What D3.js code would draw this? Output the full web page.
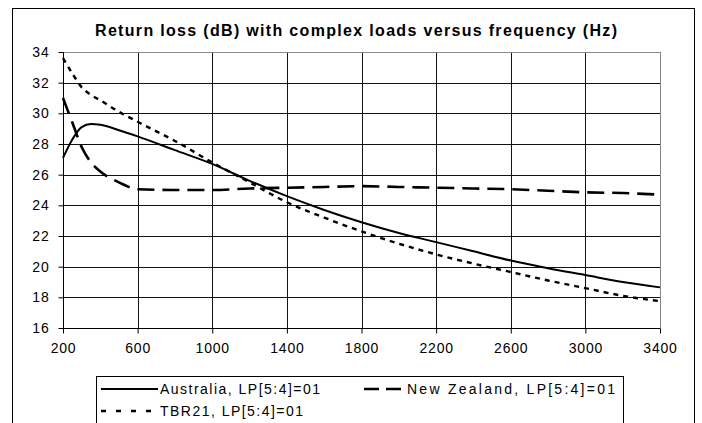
<!DOCTYPE html>
<html>
<head>
<meta charset="utf-8">
<script src="https://cdn.jsdelivr.net/npm/d3@7"></script>
<style>
  body { margin: 0; background: #fff; }
  svg { font-family: "Liberation Sans", Arial, sans-serif; }
  .axis text { font-size: 14px; fill: #000; letter-spacing: 0.8px; }
  .axis path, .axis line { stroke: #000; }
</style>
</head>
<body>
<div id="vis"></div>
<script>
var freq = [200, 250, 300, 350, 400, 500, 600, 800, 1000, 1200, 1400, 1600, 1800, 2000, 2200, 2400, 2600, 2800, 3000, 3200, 3400];
var australia = [27.1, 28.3, 29.1, 29.3, 29.25, 28.9, 28.5, 27.6, 26.7, 25.6, 24.6, 23.7, 22.9, 22.2, 21.6, 21.0, 20.4, 19.9, 19.45, 19.0, 18.65];
var newZealand = [31.0, 29.4, 27.8, 26.8, 26.2, 25.5, 25.05, 25.0, 25.0, 25.1, 25.15, 25.2, 25.25, 25.2, 25.15, 25.1, 25.05, 24.95, 24.85, 24.8, 24.7];
var tbr21 = [33.6, 32.6, 31.7, 31.2, 30.85, 30.1, 29.45, 28.2, 26.8, 25.5, 24.2, 23.2, 22.3, 21.5, 20.8, 20.2, 19.65, 19.1, 18.6, 18.1, 17.75];

var xTicks = [200, 600, 1000, 1400, 1800, 2200, 2600, 3000, 3400];
var yTicks = [16, 18, 20, 22, 24, 26, 28, 30, 32, 34];

var seriesNames = ['Australia, LP[5:4]=01', 'New Zealand, LP[5:4]=01', 'TBR21, LP[5:4]=01'];
var title = 'Return loss (dB) with complex loads versus frequency (Hz)';

var W = 702, H = 423;
var plot = {left: 63, top: 52, right: 660, bottom: 328};

var svg = d3.select('#vis').append('svg')
    .attr('width', W)
    .attr('height', H);

// outer chart frame
svg.append('rect')
   .attr('x', 12.5).attr('y', 8.5)
   .attr('width', 682).attr('height', 430)
   .attr('fill', '#fff')
   .attr('stroke', '#000')
   .attr('stroke-width', 1);

svg.append('text')
   .attr('x', 356).attr('y', 36)
   .attr('text-anchor', 'middle')
   .attr('font-size', 16)
   .attr('font-weight', 'bold')
   .attr('textLength', 522)
   .attr('lengthAdjust', 'spacing')
   .text(title);

var x = d3.scaleLinear().domain([200, 3400]).range([plot.left, plot.right]);
var y = d3.scaleLinear().domain([16, 34]).range([plot.bottom, plot.top]);

// gridlines
svg.append('g').selectAll('line.h')
   .data(yTicks.filter(function(d) { return d > 16 && d < 34; }))
   .enter().append('line')
   .attr('x1', plot.left).attr('x2', plot.right)
   .attr('y1', function(d) { return Math.round(y(d)) + 0.5; })
   .attr('y2', function(d) { return Math.round(y(d)) + 0.5; })
   .attr('stroke', '#111').attr('stroke-width', 1);

svg.append('g').selectAll('line.v')
   .data(xTicks.filter(function(d) { return d > 200 && d < 3400; }))
   .enter().append('line')
   .attr('y1', plot.top).attr('y2', plot.bottom)
   .attr('x1', function(d) { return Math.round(x(d)) + 0.5; })
   .attr('x2', function(d) { return Math.round(x(d)) + 0.5; })
   .attr('stroke', '#111').attr('stroke-width', 1);

// plot area border (top / right grey)
svg.append('rect')
   .attr('x', plot.left + 0.5).attr('y', plot.top + 0.5)
   .attr('width', plot.right - plot.left).attr('height', plot.bottom - plot.top)
   .attr('fill', 'none')
   .attr('stroke', '#8a8a8a');

var xAxis = d3.axisBottom(x).tickValues(xTicks).tickSize(5).tickPadding(10).tickFormat(d3.format('d'));
var yAxis = d3.axisLeft(y).tickValues(yTicks).tickSize(5).tickPadding(9).tickFormat(d3.format('d'));

svg.append('g')
   .attr('class', 'axis')
   .attr('transform', 'translate(0,' + (plot.bottom + 0.5) + ')')
   .call(xAxis)
   .call(function(g) { g.select('.domain').attr('d', 'M' + plot.left + ',0H' + plot.right); });

svg.append('g')
   .attr('class', 'axis')
   .attr('transform', 'translate(' + (plot.left + 0.5) + ',0)')
   .call(yAxis)
   .call(function(g) { g.select('.domain').attr('d', 'M0,' + plot.top + 'V' + plot.bottom); });

var styles = [
  {values: australia, dash: null, width: 2},
  {values: newZealand, dash: '17,8', width: 2.6},
  {values: tbr21, dash: '5,5', width: 2.4}
];

var line = d3.line()
    .x(function(d) { return x(d[0]); })
    .y(function(d) { return y(d[1]); })
    .curve(d3.curveMonotoneX);

styles.forEach(function(s) {
  var pts = freq.map(function(f, i) { return [f, s.values[i]]; });
  svg.append('path')
     .datum(pts)
     .attr('d', line)
     .attr('fill', 'none')
     .attr('stroke', '#000')
     .attr('stroke-width', s.width)
     .attr('stroke-dasharray', s.dash);
});

// legend: [x, y, line length, dash, text width]
var legend = svg.append('g');
legend.append('rect')
   .attr('x', 96.5).attr('y', 376.5)
   .attr('width', 527).attr('height', 60)
   .attr('fill', '#fff')
   .attr('stroke', '#000');

var legendPos = [[101, 389, 57, null, 160], [364, 389, 41, '15,7', 208], [101, 411, 57, '5,10', 143]];
legendPos.forEach(function(p, i) {
  legend.append('line')
     .attr('x1', p[0]).attr('x2', p[0] + p[2])
     .attr('y1', p[1]).attr('y2', p[1])
     .attr('stroke', '#000')
     .attr('stroke-width', styles[i].width)
     .attr('stroke-dasharray', p[3]);
  legend.append('text')
     .attr('x', p[0] + p[2] + 2).attr('y', p[1] + 5)
     .attr('font-size', 14)
     .attr('textLength', p[4])
     .attr('lengthAdjust', 'spacing')
     .text(seriesNames[i]);
});
</script>
</body>
</html>
